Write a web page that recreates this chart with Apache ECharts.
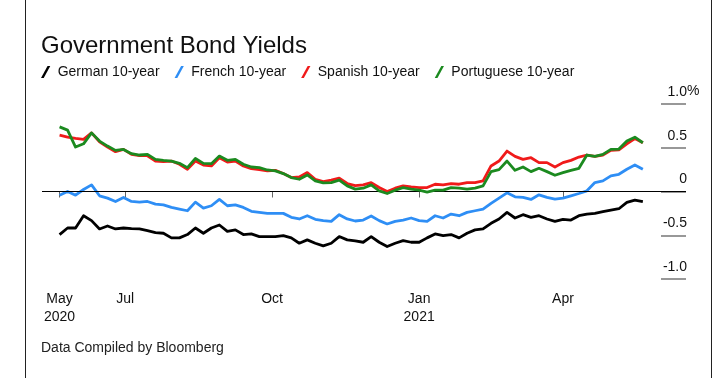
<!DOCTYPE html>
<html>
<head>
<meta charset="utf-8">
<script src="https://cdn.jsdelivr.net/npm/echarts@6/dist/echarts.min.js"></script>
<style>
html,body{margin:0;padding:0;background:#fff;}
#chart{width:722px;height:378px;}
</style>
</head>
<body>
<div id="chart"></div>
<script>
const dates = [
'2020-05-21','2020-05-26','2020-05-31','2020-06-05','2020-06-10','2020-06-15','2020-06-20','2020-06-25','2020-06-30','2020-07-05',
'2020-07-10','2020-07-15','2020-07-20','2020-07-25','2020-07-30','2020-08-04','2020-08-09','2020-08-14','2020-08-19','2020-08-24',
'2020-08-29','2020-09-03','2020-09-08','2020-09-13','2020-09-18','2020-09-23','2020-09-28','2020-10-03','2020-10-08','2020-10-13',
'2020-10-18','2020-10-23','2020-10-28','2020-11-02','2020-11-07','2020-11-12','2020-11-17','2020-11-22','2020-11-27','2020-12-02',
'2020-12-07','2020-12-12','2020-12-17','2020-12-22','2020-12-27','2021-01-01','2021-01-06','2021-01-11','2021-01-16','2021-01-21',
'2021-01-26','2021-01-31','2021-02-05','2021-02-10','2021-02-15','2021-02-20','2021-02-25','2021-03-02','2021-03-07','2021-03-12',
'2021-03-17','2021-03-22','2021-03-27','2021-04-01','2021-04-06','2021-04-11','2021-04-16','2021-04-21','2021-04-26','2021-05-01',
'2021-05-06','2021-05-11','2021-05-16','2021-05-21'
];

const german = [
-0.492,-0.417,-0.417,-0.277,-0.333,-0.428,-0.394,-0.428,-0.417,-0.424,
-0.428,-0.447,-0.470,-0.477,-0.530,-0.530,-0.492,-0.417,-0.477,-0.417,
-0.383,-0.455,-0.439,-0.492,-0.485,-0.515,-0.515,-0.515,-0.504,-0.530,
-0.591,-0.553,-0.591,-0.621,-0.591,-0.515,-0.553,-0.564,-0.580,-0.515,
-0.580,-0.629,-0.591,-0.561,-0.580,-0.580,-0.530,-0.485,-0.504,-0.492,
-0.530,-0.477,-0.439,-0.428,-0.364,-0.314,-0.239,-0.303,-0.265,-0.295,
-0.277,-0.314,-0.341,-0.318,-0.326,-0.277,-0.258,-0.250,-0.231,-0.212,
-0.197,-0.125,-0.098,-0.117
];

const french = [
-0.042,0.000,-0.042,0.023,0.076,-0.049,-0.076,-0.114,-0.068,-0.114,
-0.121,-0.114,-0.144,-0.152,-0.182,-0.201,-0.220,-0.121,-0.189,-0.163,
-0.091,-0.163,-0.152,-0.182,-0.227,-0.239,-0.250,-0.250,-0.250,-0.295,
-0.314,-0.277,-0.318,-0.333,-0.341,-0.265,-0.314,-0.337,-0.326,-0.280,
-0.333,-0.371,-0.341,-0.326,-0.303,-0.333,-0.341,-0.277,-0.303,-0.258,
-0.277,-0.239,-0.220,-0.201,-0.136,-0.076,-0.015,-0.061,-0.068,-0.091,
-0.038,-0.068,-0.087,-0.076,-0.049,-0.023,0.008,0.102,0.121,0.178,
0.197,0.254,0.303,0.254
];

const spanish = [
0.644,0.621,0.606,0.595,0.670,0.568,0.508,0.455,0.481,0.424,
0.409,0.409,0.348,0.341,0.348,0.311,0.254,0.348,0.303,0.292,
0.386,0.337,0.348,0.292,0.261,0.250,0.235,0.242,0.205,0.159,
0.167,0.216,0.140,0.114,0.129,0.152,0.091,0.068,0.076,0.102,
0.045,0.000,0.038,0.064,0.053,0.045,0.045,0.083,0.076,0.091,
0.083,0.102,0.102,0.121,0.292,0.348,0.462,0.402,0.367,0.386,
0.330,0.330,0.280,0.330,0.356,0.394,0.417,0.402,0.417,0.470,
0.477,0.545,0.606,0.557
];

const portuguese = [
0.739,0.701,0.508,0.545,0.670,0.576,0.519,0.470,0.481,0.432,
0.417,0.424,0.367,0.356,0.348,0.322,0.273,0.379,0.322,0.318,
0.405,0.356,0.367,0.311,0.280,0.273,0.246,0.235,0.205,0.159,
0.140,0.189,0.121,0.098,0.102,0.129,0.064,0.027,0.038,0.076,
0.008,-0.023,0.015,0.045,0.027,0.015,-0.008,0.015,0.015,0.045,
0.038,0.027,0.038,0.064,0.227,0.250,0.348,0.242,0.280,0.227,
0.265,0.227,0.186,0.216,0.242,0.265,0.417,0.402,0.424,0.481,
0.485,0.576,0.621,0.557
];

const seriesNames = ['German 10-year','French 10-year','Spanish 10-year','Portuguese 10-year'];
const seriesColors = ['#000000','#2e8ef5','#f01a1a','#1b8a1f'];

const xTickDates = ['2020-05-21','2020-07-01','2020-10-01','2021-01-01','2021-04-01'];
const xTickLabels = ['May\n2020','Jul','Oct','Jan\n2021','Apr'];
const xRange = ['2020-05-10','2021-06-17'];

const yTickValues = [-1,-0.5,0,0.5,1];
const yTickLabels = ['-1.0','-0.5','0','0.5','1.0'];

function toTs(s){ const p = s.split('-').map(Number); return Date.UTC(p[0], p[1]-1, p[2]); }

const xTickTs = xTickDates.map(toTs);
const FONT = "'Liberation Sans', Arial, Helvetica, sans-serif";

const allValues = [german, french, spanish, portuguese];
const series = allValues.map((vals, k) => ({
  name: seriesNames[k],
  type: 'line',
  data: dates.map((d, i) => [toTs(d), vals[i]]),
  symbol: 'none',
  lineStyle: { color: seriesColors[k], width: 2.8, join: 'round' },
  itemStyle: { color: seriesColors[k] },
  z: 3 + k
}));
series[0].markLine = {
  silent: true, symbol: 'none', label: { show: false },
  lineStyle: { color: '#000', width: 1, type: 'solid' },
  data: [{ yAxis: 0 }]
};

const chart = echarts.init(document.getElementById('chart'), null, { renderer: 'canvas' });
chart.setOption({
  animation: false,
  backgroundColor: '#fff',
  title: {
    text: 'Government Bond Yields', left: 41, top: 34, padding: 0,
    textStyle: { fontFamily: FONT, fontSize: 24, fontWeight: 'normal', color: '#111' }
  },
  legend: {
    left: 41, top: 65, padding: 0, itemGap: 15, itemWidth: 14, itemHeight: 12,
    icon: 'path://M0,11 L6,0 L8.5,0 L2.5,11 Z',
    textStyle: { fontFamily: FONT, fontSize: 14, color: '#111' },
    data: seriesNames
  },
  grid: { left: 42, right: 36, top: 104, bottom: 99, containLabel: false },
  xAxis: {
    type: 'value',
    min: toTs(xRange[0]), max: toTs(xRange[1]),
    axisLine: { show: false },
    splitLine: { show: false },
    axisTick: { show: true, customValues: xTickTs, length: 6, lineStyle: { color: '#666', width: 1 } },
    axisLabel: {
      customValues: xTickTs,
      showMinLabel: true, showMaxLabel: true,
      fontFamily: FONT, fontSize: 14, lineHeight: 18, color: '#111', margin: 11,
      formatter: function (v) {
        let best = 0, bd = Infinity;
        xTickTs.forEach((t, i) => { const d = Math.abs(t - v); if (d < bd) { bd = d; best = i; } });
        return xTickLabels[best];
      }
    }
  },
  yAxis: {
    type: 'value', position: 'right', min: -1, max: 1, interval: 0.5,
    axisLine: { show: false },
    splitLine: { show: false },
    axisTick: { show: true, inside: true, length: 25, lineStyle: { color: '#777', width: 1.5 } },
    axisLabel: {
      inside: true, align: 'right', verticalAlign: 'bottom', margin: -1,
      padding: [0, 0, 5, 0],
      fontFamily: FONT, fontSize: 14, color: '#111',
      formatter: function (v) {
        const i = yTickValues.findIndex(t => Math.abs(t - v) < 1e-9);
        return i >= 0 ? yTickLabels[i] : '';
      }
    }
  },
  graphic: [
    { type: 'line', shape: { x1: 25.5, y1: 0, x2: 25.5, y2: 378 }, style: { stroke: '#222', lineWidth: 1 } },
    { type: 'line', shape: { x1: 711.5, y1: 0, x2: 711.5, y2: 378 }, style: { stroke: '#222', lineWidth: 1 } },
    { type: 'text', left: 687, top: 84, style: { text: '%', font: "14px 'Liberation Sans', Arial, sans-serif", fill: '#111' } },
    { type: 'text', left: 41, top: 341, style: { text: 'Data Compiled by Bloomberg', font: "14px 'Liberation Sans', Arial, sans-serif", fill: '#222' } }
  ],
  series: series
});
</script>
</body>
</html>
